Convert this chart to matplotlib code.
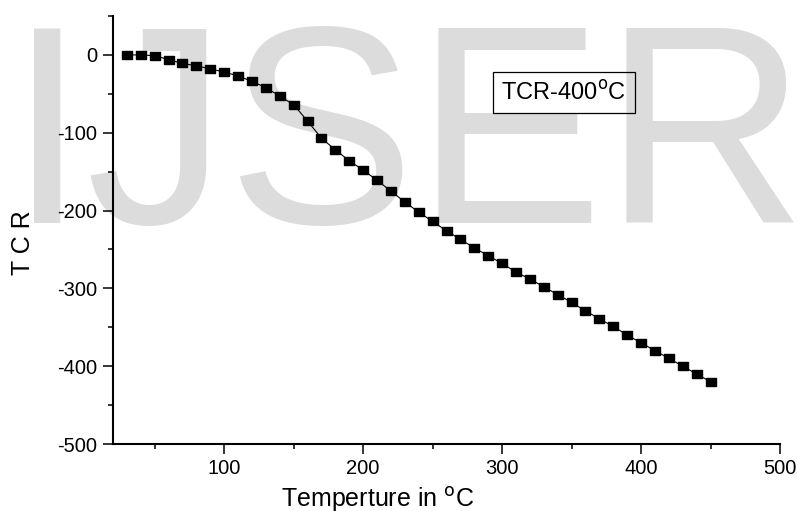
import numpy as np
import matplotlib
matplotlib.use("Agg")
import matplotlib.pyplot as plt
from matplotlib.ticker import MultipleLocator

plt.rcParams['font.family'] = ['Liberation Sans', 'DejaVu Sans']
plt.rcParams['axes.unicode_minus'] = False

# data
temperature = [30, 40, 50, 60, 70, 80, 90, 100, 110, 120, 130, 140, 150,
               160, 170, 180, 190, 200, 210, 220, 230, 240, 250, 260, 270,
               280, 290, 300, 310, 320, 330, 340, 350, 360, 370, 380, 390,
               400, 410, 420, 430, 440, 450]
tcr = [0, 0, -1, -6, -11, -14, -18, -22, -27, -34, -42, -53, -64,
       -85, -107, -122, -136, -148, -161, -175, -189, -202, -214, -226, -237,
       -248, -258, -268, -279, -288, -298, -308, -318, -329, -339, -349, -360,
       -370, -380, -390, -400, -410, -420]
legend_label = 'TCR-400$^\\mathrm{o}$C'

# slightly wide square marker, like the original
rect_marker = [(-1, -0.78), (1, -0.78), (1, 0.78), (-1, 0.78), (-1, -0.78)]


def main():
    fig = plt.figure(figsize=(7.98, 5.11), dpi=100)

    # watermark behind everything
    fig.text(8 / 798, 1 - 223 / 511, 'IJSER', fontsize=203, color='#dcdcdc',
             ha='left', va='baseline', zorder=-1)

    ax = fig.add_axes([113 / 798, 1 - 444 / 511, 667 / 798, 428 / 511])
    ax.patch.set_alpha(0)

    ax.plot(temperature, tcr, '-', color='black', lw=0.8,
            marker=rect_marker, ms=7.4, mfc='black', mec='black')

    ax.set_xlim(20, 500)
    ax.set_ylim(-500, 50)
    ax.xaxis.set_major_locator(MultipleLocator(100))
    ax.xaxis.set_minor_locator(MultipleLocator(50))
    ax.yaxis.set_major_locator(MultipleLocator(100))
    ax.yaxis.set_minor_locator(MultipleLocator(50))

    for s in ['top', 'right']:
        ax.spines[s].set_visible(False)
    for s in ['left', 'bottom']:
        ax.spines[s].set_linewidth(1.5)

    ax.tick_params(which='major', direction='out', length=7.2, width=1.1,
                   labelsize=14.5)
    ax.tick_params(axis='x', which='major', pad=3.6)
    ax.tick_params(axis='y', which='major', pad=4.3)
    ax.tick_params(which='minor', direction='out', length=3.6, width=1.1)

    ax.set_xlabel('Temperture in $^\\mathrm{o}$C', fontsize=18)
    ax.xaxis.label.set_va('baseline')
    ax.xaxis.set_label_coords(0.397, -0.146)
    ax.set_ylabel('T C R', fontsize=18)
    ax.yaxis.label.set_va('center')
    ax.yaxis.set_label_coords(-0.135, 0.47)

    ax.text(0.676, 0.821, legend_label, transform=ax.transAxes, fontsize=17,
            ha='center', va='center',
            bbox=dict(boxstyle='square,pad=0.35', fc='none', ec='black', lw=0.9))

    fig.savefig('out.png', dpi=100)


if __name__ == '__main__':
    main()
